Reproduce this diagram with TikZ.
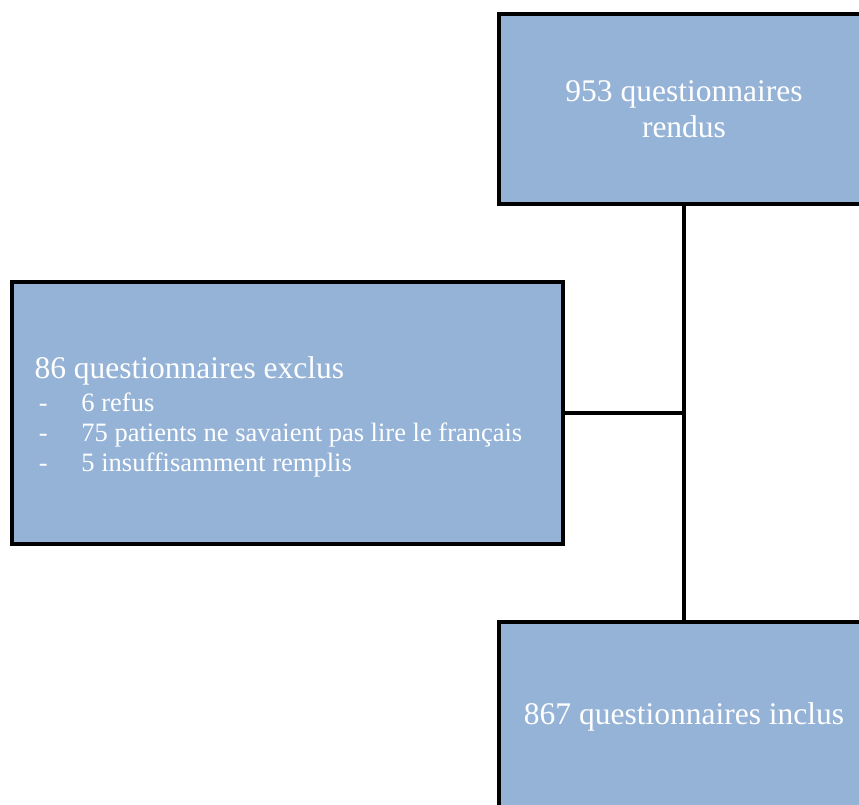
\documentclass[tikz,border=0pt]{standalone}
\usepackage{fontspec}
\setmainfont{Liberation Serif}
\definecolor{bleu}{RGB}{149,179,215}
\begin{document}
\begin{tikzpicture}[x=1pt,y=-1pt,caja/.style={rectangle, draw, fill=bleu, line width=4pt, text=white, inner sep=0pt}]
\useasboundingbox (0,0) rectangle (859,805);
\clip (0,0) rectangle (859,805);
\node [caja, minimum width=370pt, minimum height=190pt, align=center, font=\fontsize{31.5}{36}\selectfont] (r) at (684,109) {953 questionnaires\\rendus};
\node [caja, minimum width=551pt, minimum height=262pt, inner xsep=23pt, text width=505pt, align=flush left, font=\fontsize{26.5}{30}\selectfont] (e) at (287,413)
  {{\fontsize{31.5}{33}\selectfont \rule{0pt}{29.5pt}86 questionnaires exclus\par}\vskip3pt
   \makebox[47pt][l]{\,-}6 refus\par
   \makebox[47pt][l]{\,-}75 patients ne savaient pas lire le français\par
   \makebox[47pt][l]{\,-}5 insuffisamment remplis\par};
\node [caja, minimum width=370pt, minimum height=190pt, align=center, font=\fontsize{31.5}{36}\selectfont] (i) at (684,717) {867 questionnaires inclus};
\draw [line width=4pt] (r) -- (i);
\draw [line width=4pt] (e.east) -- (e.east -| r.south);
\end{tikzpicture}
\end{document}
